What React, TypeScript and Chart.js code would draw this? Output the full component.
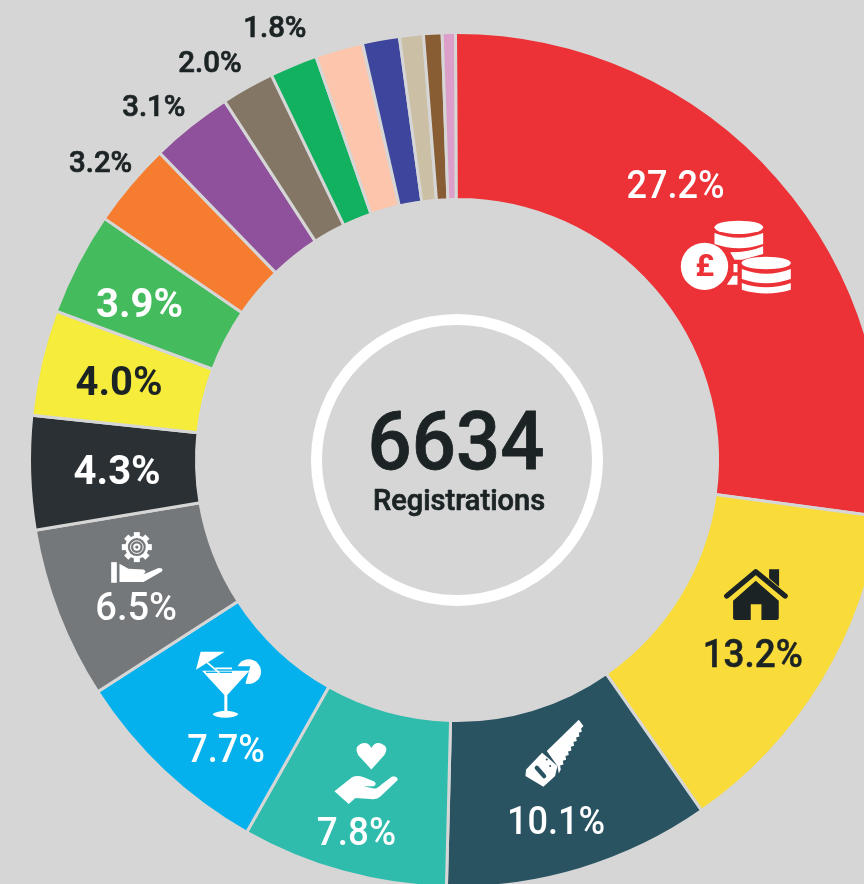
import React, { useEffect, useRef } from "react";
import { Chart, registerables } from "chart.js";

Chart.register(...registerables);

const categories = ["Money", "Home", "Trades", "Care", "Drinks", "Services", "Group 7", "Group 8", "Group 9", "Group 10", "Group 11", "Group 12", "Group 13", "Group 14", "Group 15", "Group 16", "Group 17", "Group 18"];
const shares = [27.2, 13.2, 10.1, 7.8, 7.7, 6.5, 4.3, 4.0, 3.9, 3.2, 3.1, 2.0, 1.8, 1.8, 1.4, 0.9, 0.7, 0.5];
const sliceColors = ["#ec3237", "#f9db3a", "#2a5362", "#2fbcad", "#05b1ec", "#75787b", "#2a3033", "#f6ec3c", "#44bb5d", "#f67d2f", "#90519c", "#837665", "#12b15f", "#fcc5ac", "#3e459c", "#cbbfa5", "#885d33", "#dc9fc9"];
const totalValue = "6634";
const totalCaption = "Registrations";

const BG = "#d6d6d6";
const INK = "#1c2324";
const FONT = "Roboto";

// [dx, dy from arc centre, colour, size, weight, extra outline, squeeze]
const labelStyles: [number, number, string, number, number, number, number][] = [
  [-40, -48, "#ffffff", 38, 500, 0, 0.95],
  [2, 15, INK, 38, 500, 0.5, 0.97],
  [0, 31, "#ffffff", 38, 500, 0, 0.95],
  [-9, 40, "#ffffff", 38, 500, 0, 0.97],
  [5, 38, "#ffffff", 38, 500, 0, 0.95],
  [0, 23, "#ffffff", 38, 500, 0, 1.05],
  [4, 0, "#ffffff", 40, 700, 0, 1],
  [-3, 0, INK, 40, 700, 0, 1],
  [-12, 1, "#ffffff", 40, 700, 0, 1],
  [-93.5, -77, INK, 30, 500, 0.7, 0.98],
  [-89, -85, INK, 30, 500, 0.7, 0.98],
  [-78.5, -98.5, INK, 30, 500, 0.7, 0.98],
  [-50.5, -116, INK, 30, 500, 0.7, 0.98],
];

type Ctx = CanvasRenderingContext2D;
const fill = (c: Ctx, d: string, color: string) => {
  c.fillStyle = color;
  c.fill(new Path2D(d));
};
const ellipse = (c: Ctx, x: number, y: number, rx: number, ry: number, color: string) => {
  c.fillStyle = color;
  c.beginPath();
  c.ellipse(x, y, rx, ry, 0, 0, Math.PI * 2);
  c.fill();
};

const drawCoins = (c: Ctx) => {
  const w = "#ffffff";
  ellipse(c, 315, 382, 71, 71, w);
  c.fillStyle = sliceColors[0];
  c.font = `700 96px ${FONT}`;
  c.textAlign = "center";
  c.textBaseline = "middle";
  c.fillText("£", 316, 388);
  ellipse(c, 418, 265, 73, 20, w);
  fill(c, "M345,282 Q418,310 491,282 V315 Q418,340 345,315 Z", w);
  fill(c, "M392,340 Q450,340 491,322 V345 L428,362 L405,362 Z", w);
  fill(c, "M402,375 H414 V400 H402 Z M382,437 L400,410 H414 V437 Z", w);
  ellipse(c, 500, 372, 74, 19, w);
  fill(c, "M427,390 Q500,418 574,390 V420 Q500,445 427,420 Z", w);
  fill(c, "M427,432 Q500,458 574,432 V452 Q500,475 427,452 Z", w);
};

const drawHouse = (c: Ctx) => {
  fill(c, "M805,58 H835 V110 L805,85 Z", INK);
  c.strokeStyle = INK;
  c.lineWidth = 16;
  c.lineCap = "round";
  c.lineJoin = "round";
  c.stroke(new Path2D("M678,138 L765,65 L853,138"));
  fill(c, "M697,152 L765,92 L834,152 V204 Q834,210 828,210 H782 V163 H750 V210 H704 Q697,210 697,204 Z", INK);
};

const drawSaw = (c: Ctx) => {
  const w = "#ffffff";
  fill(c, "M140,605 L236,511 L250,530 L243,537 L245,547 L236,550 L238,561 L228,564 L230,575 L220,578 L222,589 L212,592 L214,603 L204,606 L206,617 L196,620 L198,631 L188,634 L190,645 L180,648 L182,660 L176,672 L172,650 Z", w);
  fill(c, "M126,610 L172,650 L165,680 L130,712 L76,680 L78,660 Z", w);
  c.strokeStyle = sliceColors[2];
  c.lineCap = "round";
  c.lineWidth = 13;
  c.stroke(new Path2D("M110,655 L132,680"));
  ellipse(c, 140, 630, 3, 3, sliceColors[2]);
  ellipse(c, 150, 650, 3, 3, sliceColors[2]);
};

const drawHeartHand = (c: Ctx) => {
  const w = "#ffffff";
  fill(c, "M873,747 L833,703 Q820,680 840,670 Q862,660 873,682 Q885,660 905,670 Q928,680 912,703 Z", w);
  fill(c, "M762,812 L815,770 Q830,762 850,770 L880,782 Q892,790 880,797 L850,797 L880,804 Q890,805 905,790 L935,768 Q952,765 952,778 L900,828 Q890,838 870,835 L825,832 L805,850 Z", w);
};

const drawCocktail = (c: Ctx) => {
  const w = "#ffffff";
  ellipse(c, 500, 448, 37, 37, w);
  fill(c, "M455,432 H505 L488,492 H455 Z", sliceColors[4]);
  fill(c, "M342,442 L356,388 L428,388 Z", w);
  fill(c, "M360,445 H502 L436,518 V565 Q470,570 469,576 Q460,586 430,586 Q400,586 392,576 Q392,570 427,565 V518 Z", w);
  c.strokeStyle = sliceColors[4];
  c.lineWidth = 4;
  c.stroke(new Path2D("M372,450 H450"));
  c.strokeStyle = w;
  c.lineWidth = 5;
  c.stroke(new Path2D("M375,420 L412,452 M400,438 H450"));
};

const drawGearHand = (c: Ctx) => {
  const w = "#ffffff";
  const g = sliceColors[5];
  c.save();
  c.translate(170, 75);
  c.fillStyle = w;
  for (let i = 0; i < 8; i++) {
    c.rotate(Math.PI / 4);
    c.fillRect(-9, -45, 18, 20);
  }
  c.restore();
  ellipse(c, 170, 75, 35, 35, w);
  ellipse(c, 170, 75, 27, 27, g);
  c.strokeStyle = w;
  c.lineWidth = 3;
  c.beginPath();
  c.arc(170, 75, 19, 0, Math.PI * 2);
  c.stroke();
  ellipse(c, 170, 75, 11, 11, w);
  ellipse(c, 170, 75, 5, 5, g);
  fill(c, "M93,120 H110 V182 H93 Z", w);
  fill(c, "M118,125 L145,140 L190,142 Q202,148 190,155 L160,155 L195,155 L235,138 Q252,138 245,148 L190,180 L118,180 Z", w);
};

// icon painter and the crop origin it is drawn in, relative to its label
const iconPainters: [number, (c: Ctx) => void, number, number][] = [
  [0, drawCoins, -76, -46],
  [1, drawHouse, -252, -104],
  [2, drawSaw, -56, -271],
  [3, drawHeartHand, -276, -311],
  [4, drawCocktail, -144, -226],
  [5, drawGearHand, -56, -85],
];

const squeezedText = (c: Ctx, text: string, x: number, y: number, squeeze: number, outline: number) => {
  const width = c.measureText(text).width * squeeze;
  c.fillText(text, x, y, width);
  if (outline > 0) {
    c.strokeStyle = c.fillStyle;
    c.lineWidth = outline;
    c.lineJoin = "round";
    c.strokeText(text, x, y, width);
  }
};

const overlay = {
  id: "overlay",
  afterDatasetsDraw(chart: any) {
    const { ctx } = chart;
    const meta = chart.getDatasetMeta(0);
    const first = meta.data[0];
    const cx = first.x;
    const cy = first.y;

    ctx.save();
    ctx.strokeStyle = "#ffffff";
    ctx.lineWidth = 11;
    ctx.beginPath();
    ctx.arc(cx, cy, 140.5, 0, Math.PI * 2);
    ctx.stroke();

    ctx.textAlign = "center";
    ctx.textBaseline = "middle";
    ctx.fillStyle = INK;
    ctx.font = `500 81px ${FONT}`;
    squeezedText(ctx, totalValue, cx - 1, cy - 11, 0.96, 0.8);
    ctx.font = `500 29px ${FONT}`;
    squeezedText(ctx, totalCaption, cx + 2, cy + 43, 1, 0.7);

    const anchors = labelStyles.map(([dx, dy, color, size, weight, outline, squeeze], i) => {
      const p = meta.data[i].getCenterPoint();
      const x = p.x + dx;
      const y = p.y + dy;
      ctx.fillStyle = color;
      ctx.font = `${weight} ${size}px ${FONT}`;
      ctx.textAlign = "center";
      ctx.textBaseline = "middle";
      squeezedText(ctx, `${shares[i].toFixed(1)}%`, x, y + size * 0.1, squeeze, outline);
      return { x, y };
    });

    iconPainters.forEach(([i, paint, ox, oy]) => {
      ctx.save();
      ctx.translate(anchors[i].x + ox, anchors[i].y + oy);
      ctx.scale(1 / 3, 1 / 3);
      paint(ctx);
      ctx.restore();
    });
    ctx.restore();
  },
};

export default function App() {
  const ref = useRef<HTMLCanvasElement>(null);
  useEffect(() => {
    const chart = new Chart(ref.current as HTMLCanvasElement, {
      type: "doughnut",
      data: {
        labels: categories,
        datasets: [
          {
            data: shares,
            backgroundColor: sliceColors,
            borderColor: BG,
            borderWidth: 3,
            hoverOffset: 0,
          },
        ],
      },
      options: {
        animation: false,
        responsive: false,
        radius: 427.5,
        cutout: "60.94%",
        rotation: -0.2,
        layout: { padding: 0 },
        plugins: { legend: { display: false }, tooltip: { enabled: false } },
      },
      plugins: [overlay],
    } as any);
    return () => chart.destroy();
  }, []);
  return (
    <div style={{ position: "fixed", left: 0, top: 0, width: 864, height: 884, overflow: "hidden", background: BG }}>
      <canvas ref={ref} width={914} height={920} style={{ position: "absolute", left: 0, top: 0 }} />
    </div>
  );
}
